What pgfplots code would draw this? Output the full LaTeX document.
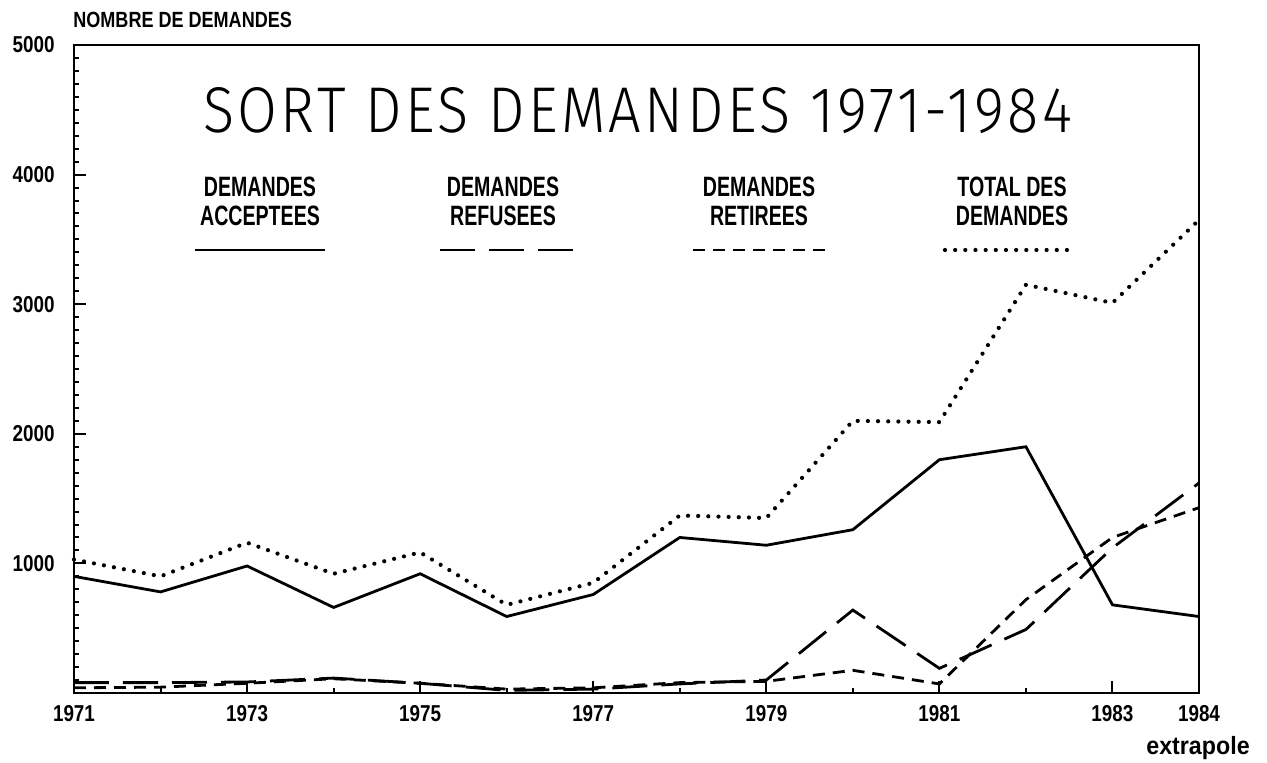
\documentclass[border=0pt]{standalone}
\usepackage{fontspec}
\usepackage{graphicx}
\usepackage{pgfplots}
\pgfplotsset{compat=1.18}
\setmainfont{Liberation Sans}
\newfontfamily\lblfont{Liberation Sans}[FakeStretch=0.82]
\newfontfamily\legfont{Liberation Sans}[FakeStretch=0.7]
\newfontfamily\extfont{Liberation Sans}[FakeStretch=0.93]
\newfontfamily\titfont{Fira Sans Light}[LetterSpace=6]

\pgfplotstableread{
year acc total refus retir
1971 900 1030 80 40
1972 780 900 80 45
1973 980 1160 85 75
1974 660 920 115 110
1975 920 1085 75 75
1976 590 680 20 30
1977 760 850 30 40
1978 1200 1370 70 80
1979 1140 1350 100 90
1980 1260 2100 640 175
1981 1800 2090 190 70
1982 1900 3150 490 720
1983 680 3010 1120 1200
1984 590 3650 1620 1430
}\data

\tikzset{
  accline/.style={line width=1.4pt, solid},
  refline/.style={line width=1.4pt, dash pattern=on 17.5pt off 7pt},
  retline/.style={line width=1.4pt, dash pattern=on 6pt off 4pt},
  totline/.style={line width=2.1pt, dash pattern=on 0pt off 5.08pt, line cap=round},
}

\begin{document}
\begin{tikzpicture}
\useasboundingbox (-37pt,-35pt) rectangle (596.5pt,346.5pt);
\begin{axis}[
  at={(0pt,0pt)}, anchor=south west,
  scale only axis, width=562.5pt, height=324pt,
  xmin=1971, xmax=1984, ymin=0, ymax=5000,
  axis line style={line width=1.2pt},
  tick align=inside,
  xtick pos=bottom, ytick pos=left,
  xtick={1971,1973,1975,1977,1979,1981,1983,1984},
  xticklabels={1971,1973,1975,1977,1979,1981,1983,1984},
  minor xtick={1972,1974,1976,1978,1980,1982},
  ytick={1000,2000,3000,4000,5000},
  yticklabels={1000,2000,3000,4000,5000},
  minor ytick={100,200,...,4900},
  major tick length=6pt, minor tick length=2.5pt,
  every tick/.style={line width=1pt, black},
  xticklabel style={anchor=base, yshift=-14.5pt, inner sep=0pt,
    font=\lblfont\bfseries\fontsize{11.5pt}{11.5pt}\selectfont},
  yticklabel style={anchor=east, xshift=-9.5pt, inner sep=0pt,
    font=\lblfont\bfseries\fontsize{11.5pt}{11.5pt}\selectfont},
  clip=false,
]
\addplot[accline] table[x=year, y=acc] {\data};
\addplot[refline] table[x=year, y=refus] {\data};
\addplot[retline] table[x=year, y=retir] {\data};
\addplot[totline] table[x=year, y=total] {\data};
\end{axis}

% axis title and note
\node[anchor=base west, inner sep=0pt, font=\lblfont\bfseries\fontsize{11pt}{11pt}\selectfont] at (-0.5pt,332.5pt) {NOMBRE DE DEMANDES};
\node[anchor=base, inner sep=0pt, font=\extfont\bfseries\fontsize{12.5pt}{12.5pt}\selectfont] at (562pt,-31pt) {extrapole};

% title
\node[anchor=base, inner sep=0pt] at (281.75pt,280pt) {\resizebox{434.5pt}{22.5pt}{\titfont SORT DES DEMANDES 1971-1984}};

% legend
\begin{scope}[every node/.style={anchor=base, inner sep=0pt, font=\legfont\bfseries\fontsize{14pt}{14pt}\selectfont}]
\node at (93pt,248pt) {DEMANDES};
\node at (93pt,233.5pt) {ACCEPTEES};
\node at (214.5pt,248pt) {DEMANDES};
\node at (214.5pt,233.5pt) {REFUSEES};
\node at (342.5pt,248pt) {DEMANDES};
\node at (342.5pt,233.5pt) {RETIREES};
\node at (469pt,248pt) {TOTAL DES};
\node at (469pt,233.5pt) {DEMANDES};
\end{scope}
\draw[accline] (60.5pt,221.5pt) -- (125.5pt,221.5pt);
\draw[refline] (183pt,221.5pt) -- (249.5pt,221.5pt);
\draw[retline] (309.5pt,221.5pt) -- (375.5pt,221.5pt);
\draw[totline] (435.5pt,221.5pt) -- (496.5pt,221.5pt);
\end{tikzpicture}
\end{document}
